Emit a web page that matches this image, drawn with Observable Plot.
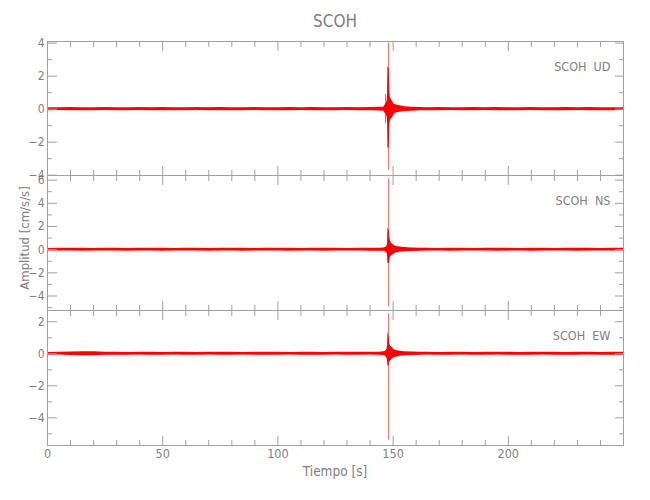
<!DOCTYPE html>
<html><head><meta charset="utf-8">
<script src="https://cdn.jsdelivr.net/npm/d3@7"></script>
<script src="https://cdn.jsdelivr.net/npm/@observablehq/plot@0.6"></script>
<style>
body{margin:0;background:#fff;}
#wrap{position:relative;width:650px;height:500px;overflow:hidden;font-family:"Liberation Sans Narrow","DejaVu Sans Condensed",sans-serif;color:#808080;}
.abs{position:absolute;line-height:1;white-space:nowrap;}
</style></head><body><div id="wrap"></div>
<script>
const station = "SCOH";
const components = ["UD", "NS", "EW"];
const xTitle = "Tiempo [s]";
const yTitle = "Amplitud [cm/s/s]";
const xDomain = [0, 250];
const xMajorTicks = [0, 50, 100, 150, 200];
const xMinorTicks = [10,20,30,40,60,70,80,90,110,120,130,140,160,170,180,190,210,220,230,240];

const udDomain = [-4.02, 4.1];
const nsDomain = [-5.25, 6.4];
const ewDomain = [-5.73, 2.7];
const udMajor = [-4,-2,0,2,4], udMinor = [-3,-1,1,3];
const nsMajor = [-4,-2,0,2,4,6], nsMinor = [-5,-3,-1,1,3,5];
const ewMajor = [-4,-2,0,2], ewMinor = [-5,-3,-1,1];

// envelope time bins (s)
const timeBins = [0,5,10,15,20,25,30,35,40,45,50,55,60,65,70,75,80,85,90,95,100,105,110,115,120,125,130,135,140,144,146,
  146.7,147.0,147.4,147.6,147.75,148.35,148.55,148.8,149.2,149.8,150.5,151.5,153,155,158,162,
  165,170,175,180,185,190,195,200,205,210,215,220,225,230,235,240,245,250];

const udHi = [0.08,0.09,0.10,0.09,0.08,0.10,0.09,0.08,0.10,0.09,0.10,0.09,0.08,0.10,0.09,0.10,0.08,0.09,0.10,0.09,0.08,0.10,0.09,0.10,0.08,0.09,0.10,0.09,0.10,0.11,0.12,
  0.30,0.35,0.50,1.00,2.60,2.40,1.10,0.70,0.60,0.45,0.30,0.25,0.20,0.15,0.12,0.10,
  0.09,0.10,0.08,0.09,0.10,0.09,0.10,0.08,0.09,0.10,0.09,0.08,0.10,0.09,0.10,0.09,0.08,0.09];
const udLo = [-0.09,-0.08,-0.09,-0.10,-0.09,-0.08,-0.10,-0.09,-0.08,-0.10,-0.09,-0.10,-0.09,-0.08,-0.10,-0.09,-0.09,-0.10,-0.08,-0.09,-0.10,-0.09,-0.08,-0.10,-0.09,-0.10,-0.08,-0.09,-0.10,-0.11,-0.12,
  -0.30,-0.30,-0.50,-0.80,-2.40,-2.30,-1.00,-0.70,-0.60,-0.50,-0.30,-0.22,-0.18,-0.14,-0.12,-0.10,
  -0.10,-0.09,-0.08,-0.10,-0.09,-0.08,-0.10,-0.09,-0.10,-0.08,-0.09,-0.10,-0.09,-0.08,-0.10,-0.09,-0.10,-0.08];

const nsHi = [0.11,0.12,0.13,0.12,0.11,0.12,0.13,0.11,0.12,0.13,0.12,0.11,0.13,0.12,0.11,0.12,0.13,0.12,0.11,0.12,0.13,0.12,0.11,0.12,0.13,0.12,0.11,0.13,0.12,0.13,0.14,
  0.20,0.20,0.35,0.50,1.90,1.60,1.10,0.80,0.60,0.45,0.35,0.27,0.22,0.18,0.15,0.13,
  0.12,0.11,0.13,0.12,0.11,0.12,0.13,0.12,0.11,0.12,0.13,0.11,0.12,0.13,0.12,0.11,0.12,0.12];
const nsLo = [-0.12,-0.11,-0.12,-0.13,-0.12,-0.11,-0.12,-0.13,-0.11,-0.12,-0.13,-0.12,-0.11,-0.12,-0.13,-0.11,-0.12,-0.13,-0.12,-0.11,-0.12,-0.13,-0.12,-0.11,-0.13,-0.12,-0.11,-0.12,-0.13,-0.13,-0.14,
  -0.20,-0.20,-0.35,-0.50,-1.20,-1.20,-1.00,-0.70,-0.55,-0.45,-0.35,-0.27,-0.22,-0.18,-0.15,-0.13,
  -0.11,-0.12,-0.13,-0.12,-0.11,-0.12,-0.13,-0.11,-0.12,-0.13,-0.12,-0.11,-0.12,-0.13,-0.12,-0.11,-0.12,-0.12];

const ewHi = [0.08,0.09,0.11,0.13,0.12,0.10,0.09,0.08,0.10,0.09,0.08,0.10,0.09,0.08,0.10,0.09,0.10,0.08,0.09,0.10,0.09,0.08,0.10,0.09,0.08,0.10,0.09,0.10,0.09,0.10,0.12,
  0.15,0.20,0.30,0.50,1.35,1.00,0.60,0.50,0.45,0.35,0.25,0.20,0.16,0.13,0.11,0.10,
  0.09,0.08,0.10,0.09,0.08,0.10,0.09,0.10,0.08,0.09,0.10,0.09,0.08,0.10,0.09,0.08,0.09,0.10];
const ewLo = [-0.09,-0.08,-0.11,-0.13,-0.12,-0.09,-0.10,-0.09,-0.08,-0.10,-0.09,-0.08,-0.10,-0.09,-0.08,-0.10,-0.09,-0.08,-0.10,-0.09,-0.10,-0.08,-0.09,-0.10,-0.09,-0.08,-0.10,-0.09,-0.08,-0.10,-0.12,
  -0.15,-0.20,-0.30,-0.40,-0.80,-0.70,-0.55,-0.45,-0.40,-0.30,-0.25,-0.20,-0.16,-0.13,-0.11,-0.10,
  -0.08,-0.09,-0.10,-0.08,-0.09,-0.10,-0.08,-0.09,-0.10,-0.09,-0.08,-0.10,-0.09,-0.10,-0.08,-0.09,-0.10,-0.09];

// peak excursions (thin spikes)
const udPeakT = [146.7, 148.05], udPeakLo = [-0.9, -3.7], udPeakHi = [0.9, 4.0];
const nsPeakT = [148.05], nsPeakLo = [-4.95], nsPeakHi = [6.1];
const ewPeakT = [148.05], ewPeakLo = [-5.4], ewPeakHi = [2.5];

const mkEnv = (lo, hi) => timeBins.map((t, i) => ({t, lo: lo[i], hi: hi[i]}));
const mkPeaks = (T, lo, hi) => T.map((t, i) => ({t, lo: lo[i], hi: hi[i]}));

const axisGrey = "#a0a0a0", textGrey = "#808080", red = "#ff0000";
const fmt = d => d < 0 ? "\u2212" + (-d) : String(d);

function panel({top, height, mt, mb, domain, majors, minors, env, peaks, comp, xLabels}) {
  const noText = {stroke: axisGrey, tickFormat: () => ""};
  const marks = [
    Plot.areaY(env, {x: "t", y1: "lo", y2: "hi", fill: red, curve: "linear", clip: true}),
    Plot.ruleX(peaks, {x: "t", y1: "lo", y2: "hi", stroke: red, strokeOpacity: 0.6, clip: true}),
    Plot.frame({stroke: axisGrey}),
    Plot.axisY(majors, {anchor: "left", tickSize: 10, dx: 10, ...noText}),
    Plot.axisY(minors, {anchor: "left", tickSize: 5, dx: 5, ...noText}),
    Plot.axisY(majors, {anchor: "right", tickSize: 9, dx: -9, ...noText}),
    Plot.axisY(minors, {anchor: "right", tickSize: 5, dx: -5, ...noText}),
    Plot.axisX(xMajorTicks, {anchor: "top", tickSize: 9, dy: 9, ...noText}),
    Plot.axisX(xMinorTicks, {anchor: "top", tickSize: 5, dy: 5, ...noText}),
    Plot.axisX(xMajorTicks, {anchor: "bottom", tickSize: 9, dy: -9, ...noText}),
    Plot.axisX(xMinorTicks, {anchor: "bottom", tickSize: 5, dy: -5, ...noText}),
    Plot.axisY(majors, {anchor: "left", tickSize: 0, tickPadding: 3, tickFormat: fmt, fill: textGrey, fontSize: 12}),
    Plot.text([station + "\u00a0\u00a0" + comp], {frameAnchor: "top-right", dx: -13, dy: 21, textAnchor: "end", fill: textGrey, fontSize: 12.5})
  ];
  if (xLabels) marks.push(Plot.axisX(xMajorTicks, {anchor: "bottom", tickSize: 0, tickPadding: 4, fill: textGrey, fontSize: 12.5}));
  const svg = Plot.plot({
    width: 650, height, marginLeft: 47, marginRight: 27, marginTop: mt, marginBottom: mb,
    x: {domain: xDomain, label: null},
    y: {domain, label: null},
    style: {background: "transparent", overflow: "visible", fontFamily: "'Liberation Sans Narrow','DejaVu Sans Condensed',sans-serif", fontSize: "12px", color: textGrey},
    marks
  });
  svg.style.position = "absolute";
  svg.style.left = "0px";
  svg.style.top = top + "px";
  return svg;
}

const wrap = document.getElementById("wrap");
wrap.appendChild(panel({top: 0, height: 175, mt: 41, mb: 0, domain: udDomain, majors: udMajor, minors: udMinor,
  env: mkEnv(udLo, udHi), peaks: mkPeaks(udPeakT, udPeakLo, udPeakHi), comp: components[0]}));
wrap.appendChild(panel({top: 175, height: 135, mt: 0, mb: 0, domain: nsDomain, majors: nsMajor, minors: nsMinor,
  env: mkEnv(nsLo, nsHi), peaks: mkPeaks(nsPeakT, nsPeakLo, nsPeakHi), comp: components[1]}));
wrap.appendChild(panel({top: 310, height: 190, mt: 0, mb: 55, domain: ewDomain, majors: ewMajor, minors: ewMinor,
  env: mkEnv(ewLo, ewHi), peaks: mkPeaks(ewPeakT, ewPeakLo, ewPeakHi), comp: components[2], xLabels: true}));

function label(text, css) {
  const d = document.createElement("div");
  d.className = "abs";
  d.textContent = text;
  Object.assign(d.style, css);
  wrap.appendChild(d);
}
label(station, {left: "335px", top: "13px", fontSize: "17px", transform: "translateX(-50%)"});
label(xTitle, {left: "335px", top: "465px", fontSize: "13.5px", transform: "translateX(-50%)"});
label(yTitle, {left: "24px", top: "238px", fontSize: "13px", transform: "translate(-50%,-50%) rotate(-90deg)"});
</script>
</body></html>
